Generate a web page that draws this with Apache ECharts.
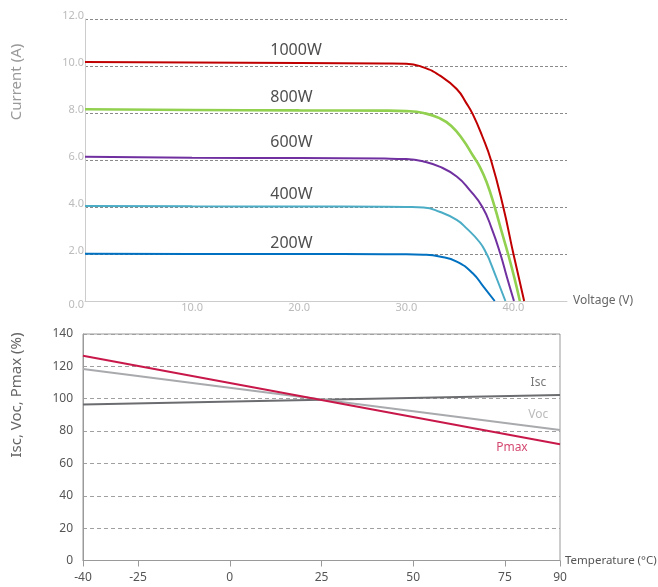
<!DOCTYPE html>
<html>
<head>
<meta charset="utf-8">
<script src="https://cdn.jsdelivr.net/npm/echarts@6/dist/echarts.min.js"></script>
<style>
html,body{margin:0;padding:0;background:#fff;}
#chart{width:658px;height:587px;}
</style>
</head>
<body>
<div id="chart"></div>
<script>
// ---- I-V curves (top chart) ----
const voltage1000 = [0, 10, 20, 28, 30, 31.6, 33.1, 34.7, 35.6, 36.2, 37.1, 37.9, 39.05, 40.0, 41.0];
const current1000 = [10.17, 10.15, 10.13, 10.11, 10.1, 9.94, 9.6, 9.02, 8.42, 7.95, 7.0, 6.0, 4.0, 2.0, 0];
const voltage800 = [0, 10, 20, 28, 30, 31.6, 33.1, 34.2, 35.3, 36.2, 36.85, 37.5, 38.25, 38.9, 39.5, 40.1, 40.6];
const current800 = [8.16, 8.13, 8.11, 8.1, 8.08, 8.0, 7.78, 7.45, 6.85, 6.2, 5.72, 5.05, 4.0, 2.95, 2.0, 0.96, 0];
const voltage600 = [0, 10, 20, 28, 30, 31.6, 33.1, 34.7, 35.9, 37.1, 38.0, 38.78, 39.4, 40.05];
const current600 = [6.14, 6.1, 6.08, 6.06, 6.04, 5.94, 5.72, 5.3, 4.73, 4.0, 3.05, 2.0, 1.0, 0];
const voltage400 = [0, 10, 20, 28, 30, 31.6, 33.1, 34.7, 35.6, 36.85, 37.5, 37.8, 38.4, 39.25];
const current400 = [4.04, 4.03, 4.02, 4.01, 4.0, 3.98, 3.8, 3.45, 3.1, 2.5, 2.0, 1.7, 1.0, 0];
const voltage200 = [0, 10, 20, 28, 30, 31.6, 33.1, 34.7, 36.2, 37.2, 38.25];
const current200 = [2.01, 2.0, 2.0, 1.99, 1.99, 1.97, 1.89, 1.68, 1.18, 0.61, 0];

const powerNames = ['1000W', '800W', '600W', '400W', '200W'];
const powerColors = ['#c00000', '#92d050', '#7030a0', '#4bacc6', '#0070c0'];
const powerLabelV = [17.3, 17.3, 17.3, 17.3, 17.3];
const powerLabelI = [10.65, 8.65, 6.73, 4.52, 2.43];

// ---- Temperature characteristics (bottom chart) ----
const temperature = [-40, 90];
const iscValues = [96.5, 102.3];
const vocValues = [118.4, 80.7];
const pmaxValues = [126.6, 71.8];
const tempTicks = [-40, -25, 0, 25, 50, 75, 90];
const paramNames = ['Isc', 'Voc', 'Pmax'];
const paramColors = ['#6b6c6f', '#a9aaad', '#c8184a'];
const paramLabelColors = ['#555555', '#aaaaaa', '#c8184a'];
const paramLabelT = [84.1, 84.1, 76.9];
const paramLabelY = [110, 90.5, 69.7];

function zip(a, b) { return a.map((v, i) => [v, b[i]]); }

const ivSets = [
  zip(voltage1000, current1000),
  zip(voltage800, current800),
  zip(voltage600, current600),
  zip(voltage400, current400),
  zip(voltage200, current200)
];
const paramSets = [
  zip(temperature, iscValues),
  zip(temperature, vocValues),
  zip(temperature, pmaxValues)
];

const FONT = 'Noto Sans';
const chart = echarts.init(document.getElementById('chart'), null, {renderer: 'canvas'});

const series = [];
ivSets.forEach((d, i) => {
  series.push({
    type: 'line', xAxisIndex: 0, yAxisIndex: 0, name: powerNames[i],
    data: d, smooth: 0.5, showSymbol: false, silent: true,
    lineStyle: {color: powerColors[i], width: i === 1 ? 2.6 : 2},
    itemStyle: {color: powerColors[i]}, z: 3
  });
});
series.push({
  type: 'scatter', xAxisIndex: 0, yAxisIndex: 0, symbolSize: 0, silent: true,
  data: powerNames.map((n, i) => ({name: n, value: [powerLabelV[i], powerLabelI[i]]})),
  label: {show: true, position: 'right', distance: 0, formatter: '{b}', color: '#222', fontSize: 16, fontFamily: FONT}
});
paramSets.forEach((d, i) => {
  series.push({
    type: 'line', xAxisIndex: 1, yAxisIndex: 1, name: paramNames[i],
    data: d, showSymbol: false, silent: true,
    lineStyle: {color: paramColors[i], width: 2},
    itemStyle: {color: paramColors[i]}, z: 3 + i
  });
});
series.push({
  type: 'scatter', xAxisIndex: 1, yAxisIndex: 1, symbolSize: 0, silent: true,
  data: paramNames.map((n, i) => ({
    name: n, value: [paramLabelT[i], paramLabelY[i]],
    label: {color: paramLabelColors[i]}
  })),
  label: {show: true, position: 'inside', formatter: '{b}', fontSize: 12, fontFamily: FONT}
});

const option = {
  animation: false,
  backgroundColor: '#ffffff',
  textStyle: {fontFamily: FONT},
  grid: [
    {left: 85, right: 91, top: 19, height: 282},
    {left: 83, right: 98, top: 334, height: 226.5, show: true, borderColor: '#9a9a9a', borderWidth: 1, backgroundColor: 'transparent'}
  ],
  xAxis: [
    {
      gridIndex: 0, type: 'value', min: 0, max: 45, interval: 10,
      axisLine: {show: true, onZero: false, lineStyle: {color: '#cccccc', width: 1}},
      axisTick: {show: false},
      splitLine: {show: false},
      axisLabel: {color: '#bbbbbb', fontSize: 11, margin: 1, showMinLabel: false, showMaxLabel: false,
        formatter: v => v.toFixed(1)},
      name: 'Voltage (V)', nameLocation: 'end', nameGap: 6,
      nameTextStyle: {color: '#666', fontSize: 12, padding: [0, 0, 38, 0]}
    },
    {
      gridIndex: 1, type: 'value', min: -40, max: 90,
      axisLine: {show: true, onZero: false, lineStyle: {color: '#9a9a9a', width: 1}},
      axisTick: {show: true, length: 6, customValues: tempTicks, lineStyle: {color: '#9a9a9a'}},
      splitLine: {show: false},
      axisLabel: {color: '#555', fontSize: 12, margin: 11, customValues: tempTicks},
      name: 'Temperature (°C)', nameLocation: 'end', nameGap: 5,
      nameTextStyle: {color: '#555', fontSize: 11.5}
    }
  ],
  yAxis: [
    {
      gridIndex: 0, type: 'value', min: 0, max: 12, interval: 2,
      axisLine: {show: true, onZero: false, lineStyle: {color: '#cccccc', width: 1}},
      axisTick: {show: false},
      splitLine: {show: true, lineStyle: {color: '#8a8a8a', type: [3, 2], width: 1}},
      axisLabel: {
        color: '#bbbbbb', fontSize: 11, margin: 1,
        formatter: v => (v === 0 ? '{z|0.0}' : '{n|' + v.toFixed(1) + '}'),
        rich: {
          n: {color: '#bbbbbb', fontSize: 11, padding: [0, 0, 6, 0]},
          z: {color: '#bbbbbb', fontSize: 11, padding: [8, 0, 0, 0]}
        }
      }
    },
    {
      gridIndex: 1, type: 'value', min: 0, max: 140, interval: 20,
      axisLine: {show: true, onZero: false, lineStyle: {color: '#9a9a9a', width: 1}},
      axisTick: {show: false},
      splitLine: {show: true, lineStyle: {color: '#a0a0a0', type: [4, 3], width: 1}},
      axisLabel: {color: '#555', fontSize: 12, margin: 10}
    }
  ],
  graphic: [
    {type: 'text', x: 17, y: 82, rotation: Math.PI / 2,
      style: {text: 'Current (A)', fill: '#999', fontSize: 15, fontFamily: FONT, align: 'center', verticalAlign: 'middle'}},
    {type: 'text', x: 17, y: 395, rotation: Math.PI / 2,
      style: {text: 'Isc, Voc, Pmax (%)', fill: '#666', fontSize: 15, fontFamily: FONT, align: 'center', verticalAlign: 'middle'}}
  ],
  series: series
};
chart.setOption(option);
</script>
</body>
</html>
